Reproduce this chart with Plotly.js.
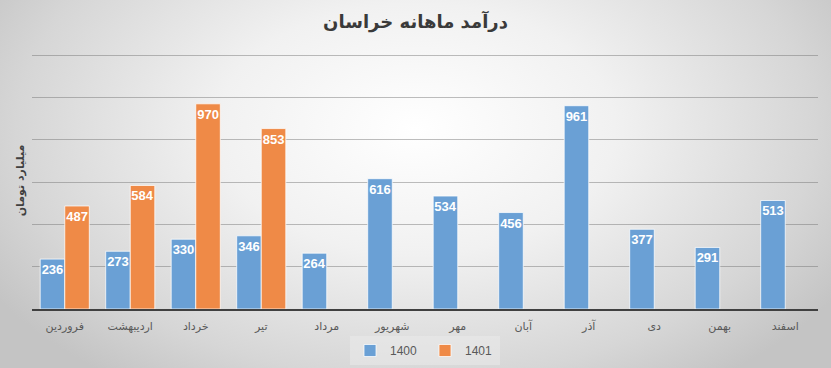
<!DOCTYPE html>
<html>
<head>
<meta charset="utf-8">
<script src="https://cdn.plot.ly/plotly-3.0.1.min.js"></script>
<style>
html,body{margin:0;padding:0;}
body{width:831px;height:368px;overflow:hidden;
background: radial-gradient(ellipse 60% 85% at 50% 35%, #ffffff 0%, #f1f1f1 40%, #d6d6d6 80%, #c4c4c4 100%);}
#chart{width:831px;height:368px;}
</style>
</head>
<body>
<div id="chart"></div>
<script>
const months = ["فروردین","اردیبهشت","خرداد","تیر","مرداد","شهریور","مهر","آبان","آذر","دی","بهمن","اسفند"];
const series1400 = [236,273,330,346,264,616,534,456,961,377,291,513];
const series1401 = [487,584,970,853,null,null,null,null,null,null,null,null];
const seriesNames = ["1400","1401"];
const colors = ["#6aa0d5","#ef8a47"];
const gridVals = [200,400,600,800,1000,1200];

const persianFont = "DejaVu Sans, Noto Sans, sans-serif";

function mk(vals, name, color){
  return {
    type:'bar', x:months, y:vals, name:name,
    marker:{color:color, line:{color:'rgba(255,255,255,0.75)', width:1}},
    text: vals.map(v => v==null ? '' : String(v)),
    textposition:'inside', insidetextanchor:'end', textangle:0,
    constraintext:'none',
    textfont:{color:'#ffffff', size:13, family:'Liberation Sans, Arial, sans-serif', weight:'bold'},
    hoverinfo:'none'
  };
}

const data = [mk(series1400, seriesNames[0], colors[0]), mk(series1401, seriesNames[1], colors[1])];

const layout = {
  width:831, height:368,
  paper_bgcolor:'rgba(0,0,0,0)', plot_bgcolor:'rgba(0,0,0,0)',
  margin:{l:32, r:13, t:52, b:59, autoexpand:false},
  barmode:'group', bargap:0.25, bargroupgap:0,
  title:{text:'درآمد ماهانه خراسان', x:0.5, xanchor:'center', y:0.94, yanchor:'middle',
    font:{family:persianFont, size:18, color:'#3a3a3a', weight:'bold'}},
  xaxis:{type:'category', showline:true, linecolor:'#404040', linewidth:2,
    showgrid:false, ticks:'outside', ticklen:6, tickcolor:'rgba(0,0,0,0)',
    tickfont:{family:persianFont, size:11, color:'#595959'},
    fixedrange:true},
  yaxis:{range:[0,1215], tickvals:gridVals, showticklabels:false, ticks:'',
    showgrid:true, gridcolor:'rgba(110,110,110,0.45)', gridwidth:1, zeroline:false,
    title:{text:'میلیارد تومان', standoff:4, font:{family:persianFont, size:11, color:'#404040', weight:'bold'}},
    fixedrange:true},
  legend:{orientation:'h', x:0.5, xanchor:'center', y:-0.105, yanchor:'top',
    font:{family:'Liberation Sans, Arial, sans-serif', size:12, color:'#595959'},
    bgcolor:'rgba(235,235,235,0.5)', itemwidth:30, entrywidth:30, entrywidthmode:'pixels',
    traceorder:'normal'},
  showlegend:true
};

Plotly.newPlot('chart', data, layout, {displayModeBar:false, staticPlot:true});
</script>
</body>
</html>
